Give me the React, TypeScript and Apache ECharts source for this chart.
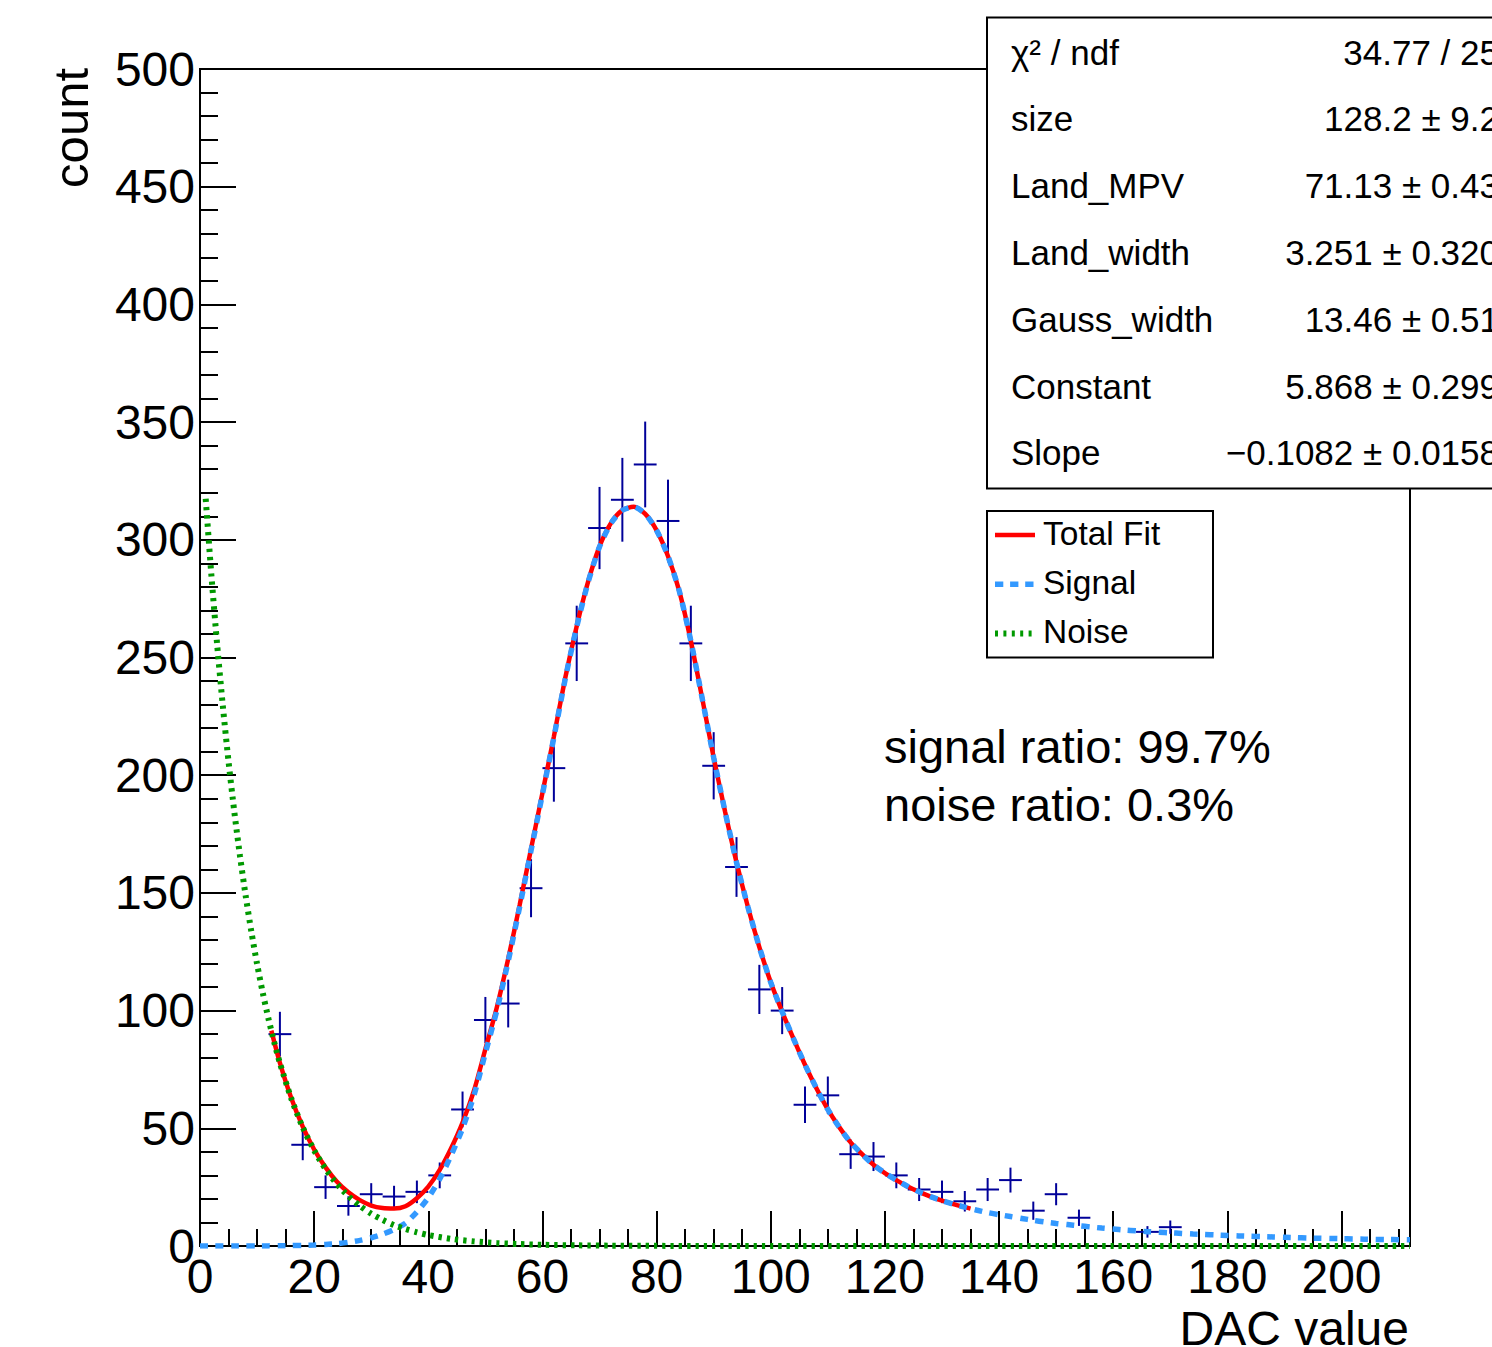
import React, { useEffect, useRef } from 'react';
import * as echarts from 'echarts';

// ---------- data ----------
const binCenters = [14, 18, 22, 26, 30, 34, 38, 42, 46, 50, 54, 58, 62, 66, 70, 74, 78, 82, 86, 90, 94, 98, 102, 106, 110, 114, 118, 122, 126, 130, 134, 138, 142, 146, 150, 154, 166, 170];
const binCounts = [90, 43, 25, 17, 22, 21, 23, 30, 58, 96, 103, 152, 203, 256, 305, 317, 332, 308, 256, 204, 161, 109, 100, 60, 64, 39, 38, 30, 24, 23, 19, 24, 28, 15, 22, 12, 6, 8];
const binErrors = [9.49, 6.56, 5.0, 4.12, 4.69, 4.58, 4.8, 5.48, 7.62, 9.8, 10.15, 12.33, 14.25, 16.0, 17.46, 17.8, 18.22, 17.55, 16.0, 14.28, 12.69, 10.44, 10.0, 7.75, 8.0, 6.24, 6.16, 5.48, 4.9, 4.8, 4.36, 4.9, 5.29, 3.87, 4.69, 3.46, 2.45, 2.83];
const binHalfWidth = 2;

const totalX = [12.5, 14, 16, 18, 20, 22, 24, 26, 28, 30, 32, 34, 36, 38, 40, 42, 44, 46, 48, 50, 52, 54, 56, 58, 60, 62, 64, 66, 68, 70, 72, 74, 76, 78, 80, 82, 84, 86, 88, 90, 92, 94, 96, 98, 100, 102, 104, 106, 108, 110, 112, 114, 116, 118, 120, 122, 124, 126, 128, 130, 132, 134, 135];
const totalY = [91.5, 77.8, 62.8, 50.7, 41.0, 33.4, 27.3, 22.8, 19.5, 17.2, 16.1, 15.9, 16.9, 20.3, 25.2, 32.3, 41.5, 52.4, 66.0, 83.6, 101.3, 122.0, 144.8, 168.7, 192.5, 216.4, 241.4, 263.3, 282.2, 297.2, 307.1, 312.6, 314.0, 311.0, 304.0, 293.0, 278.0, 257.0, 232.5, 207.5, 184.5, 163.0, 144.0, 127.0, 112.0, 99.5, 88.0, 77.0, 67.0, 58.0, 50.5, 44.0, 39.0, 34.5, 31.0, 28.0, 25.3, 23.0, 21.0, 19.3, 17.8, 16.5, 15.9];

const signalX = [0, 2, 4, 6, 8, 10, 12, 14, 16, 18, 20, 22, 24, 26, 28, 30, 32, 34, 36, 38, 40, 42, 44, 46, 48, 50, 52, 54, 56, 58, 60, 62, 64, 66, 68, 70, 72, 74, 76, 78, 80, 82, 84, 86, 88, 90, 92, 94, 96, 98, 100, 102, 104, 106, 108, 110, 112, 114, 116, 118, 120, 122, 124, 126, 128, 130, 132, 134, 136, 138, 140, 142, 144, 146, 148, 150, 152, 154, 156, 158, 160, 162, 164, 166, 168, 170, 172, 174, 176, 178, 180, 182, 184, 186, 188, 190, 192, 194, 196, 198, 200, 202, 204, 206, 208, 210, 212];
const signalY = [0, 0, 0, 0, 0.01, 0.02, 0.05, 0.1, 0.15, 0.25, 0.4, 0.65, 1.0, 1.6, 2.4, 3.5, 5.0, 7.0, 9.7, 14.5, 20.5, 28.5, 38.5, 50, 64, 82, 100, 121, 144, 168, 192, 216, 241, 263, 282, 297, 307, 312.5, 314, 311, 304, 293, 278, 257, 232.5, 207.5, 184.5, 163, 144, 127, 112, 99.5, 88, 77, 67, 58, 50.5, 44, 39, 34.5, 31, 28, 25.3, 23, 21, 19.3, 17.8, 16.5, 15.3, 14.2, 13.3, 12.5, 11.7, 10.9, 10.2, 9.6, 9.1, 8.6, 8.1, 7.6, 7.2, 6.8, 6.45, 6.1, 5.85, 5.6, 5.35, 5.1, 4.9, 4.7, 4.5, 4.3, 4.15, 4.0, 3.85, 3.7, 3.55, 3.4, 3.3, 3.2, 3.1, 3.0, 2.9, 2.8, 2.75, 2.7, 2.65];

const noiseX = [1, 2, 3, 4, 5, 6, 7, 8, 9, 10, 11, 12, 13, 14, 16, 18, 20, 22, 24, 26, 28, 30, 32, 34, 36, 38, 40, 44, 48, 52, 56, 60, 66, 72, 80, 90, 100, 120, 140, 160, 180, 200, 212];
const noiseY = [317.4, 284.8, 255.6, 229.4, 205.8, 184.7, 165.8, 148.8, 133.5, 119.8, 107.5, 96.5, 86.6, 77.7, 62.6, 50.4, 40.6, 32.7, 26.3, 21.2, 17.1, 13.7, 11.1, 8.9, 7.2, 5.8, 4.66, 3.02, 1.96, 1.27, 0.82, 0.53, 0.28, 0.15, 0.06, 0.02, 0.01, 0, 0, 0, 0, 0, 0];

const statsLabels = ['χ² / ndf', 'size', 'Land_MPV', 'Land_width', 'Gauss_width', 'Constant', 'Slope'];
const statsValues = ['34.77 / 25', '128.2 ± 9.2', '71.13 ± 0.43', '3.251 ± 0.320', '13.46 ± 0.51', '5.868 ± 0.299', '−0.1082 ± 0.0158'];
const legendLabels = ['Total Fit', 'Signal', 'Noise'];
const ratioTexts = ['signal ratio: 99.7%', 'noise ratio: 0.3%'];

const xMin = 0;
const xMax = 212;
const xMajor = 20;
const xMinor = 5;
const yMin = 0;
const yMax = 500;
const yMajor = 50;

// ---------- styles ----------
const FONT = '"Liberation Sans", Arial, Helvetica, sans-serif';
const RED = '#ff0000';
const BLUE = '#3399ff';
const GREEN = '#009900';
const NAVY = '#000099';
const SIGNAL_DASH = [8, 7.5];
const NOISE_DASH = [3.3, 5];

function txt(text: string, x: number, y: number, size: number, align: string, extra: any = {}) {
  return {
    type: 'text',
    x,
    y,
    z: 101,
    silent: true,
    ...extra,
    style: {
      text,
      font: `${size}px ${FONT}`,
      fill: '#000',
      align,
      verticalAlign: 'middle',
      textAlign: align,
      textVerticalAlign: 'middle',
    },
  };
}

export default function App() {
  const ref = useRef<HTMLDivElement>(null);

  useEffect(() => {
    if (!ref.current) return;
    const chart = echarts.init(ref.current, undefined, { renderer: 'svg' });

    const graphic: any[] = [];
    // stats box
    graphic.push({
      type: 'rect',
      z: 100,
      silent: true,
      shape: { x: 987, y: 17.5, width: 600, height: 471 },
      style: { fill: '#fff', stroke: '#000', lineWidth: 2 },
    });
    const rowTop = 52;
    const rowStep = 66.8;
    statsLabels.forEach((l, i) => {
      graphic.push(txt(l, 1011, rowTop + rowStep * i, 35, 'left'));
      graphic.push(txt(statsValues[i], 1499, rowTop + rowStep * i, 35, 'right'));
    });
    // legend box
    graphic.push({
      type: 'rect',
      z: 100,
      silent: true,
      shape: { x: 987, y: 511, width: 226, height: 146.5 },
      style: { fill: '#fff', stroke: '#000', lineWidth: 2 },
    });
    const legStyles = [
      { stroke: RED, lineWidth: 4.5 },
      { stroke: BLUE, lineWidth: 5.5, lineDash: [8.3, 6.8] },
      { stroke: GREEN, lineWidth: 6, lineDash: [3, 5.4] },
    ];
    legendLabels.forEach((l, i) => {
      const yLine = 535 + 49.2 * i;
      graphic.push({
        type: 'line',
        z: 101,
        silent: true,
        shape: { x1: 995, y1: yLine, x2: 1035, y2: yLine },
        style: legStyles[i],
      });
      graphic.push(txt(l, 1043, 533 + 49.2 * i, 33.5, 'left'));
    });
    // ratio texts
    ratioTexts.forEach((t, i) => {
      graphic.push(txt(t, 884, 746 + 58 * i, 47, 'left'));
    });
    // axis titles
    graphic.push(txt('count', 70.5, 68, 49, 'right', { rotation: Math.PI / 2 }));
    graphic.push(txt('DAC value', 1409, 1328.5, 48, 'right'));

    const lineCommon = {
      type: 'line',
      xAxisIndex: 0,
      silent: true,
      showSymbol: false,
      symbol: 'none',
      smooth: 0.25,
    };

    const option: any = {
      animation: false,
      backgroundColor: '#ffffff',
      grid: {
        left: 200,
        top: 69,
        width: 1210,
        height: 1177,
        show: true,
        borderColor: '#000',
        borderWidth: 2,
        backgroundColor: 'transparent',
        containLabel: false,
      },
      xAxis: [
        {
          type: 'value',
          min: xMin,
          max: xMax,
          interval: xMajor,
          position: 'bottom',
          axisLine: { show: true, onZero: false, lineStyle: { color: '#000', width: 2 } },
          axisTick: { show: true, inside: true, length: 35, lineStyle: { color: '#000', width: 2 } },
          minorTick: { show: false },
          splitLine: { show: false },
          axisLabel: {
            show: true,
            margin: 6,
            fontSize: 48,
            fontFamily: FONT,
            color: '#000',
            showMaxLabel: false,
            showMinLabel: true,
          },
        },
        {
          type: 'value',
          min: xMin,
          max: xMax,
          interval: xMinor,
          position: 'bottom',
          gridIndex: 0,
          axisLine: { show: false, onZero: false },
          axisTick: { show: true, inside: true, length: 17, lineStyle: { color: '#000', width: 2 } },
          axisLabel: { show: false },
          splitLine: { show: false },
        },
      ],
      yAxis: {
        type: 'value',
        min: yMin,
        max: yMax,
        interval: yMajor,
        axisLine: { show: true, onZero: false, lineStyle: { color: '#000', width: 2 } },
        axisTick: { show: true, inside: true, length: 36, lineStyle: { color: '#000', width: 2 } },
        minorTick: { show: true, splitNumber: 5, length: 18, lineStyle: { color: '#000', width: 2 } },
        splitLine: { show: false },
        minorSplitLine: { show: false },
        axisLabel: { margin: 5, fontSize: 48, fontFamily: FONT, color: '#000' },
      },
      series: [
        {
          type: 'custom',
          name: 'data',
          xAxisIndex: 0,
          z: 2,
          silent: true,
          data: binCenters.map((c, i) => [c, binCounts[i], binErrors[i]]),
          encode: { x: 0, y: 1 },
          renderItem: (params: any, api: any) => {
            const x = api.value(0);
            const y = api.value(1);
            const e = api.value(2);
            const pL = api.coord([x - binHalfWidth, y]);
            const pR = api.coord([x + binHalfWidth, y]);
            const pT = api.coord([x, y + e]);
            const pB = api.coord([x, y - e]);
            const st = { stroke: NAVY, lineWidth: 2 };
            return {
              type: 'group',
              children: [
                { type: 'line', shape: { x1: pL[0], y1: pL[1], x2: pR[0], y2: pR[1] }, style: st },
                { type: 'line', shape: { x1: pT[0], y1: pT[1], x2: pB[0], y2: pB[1] }, style: st },
              ],
            };
          },
        },
        {
          ...lineCommon,
          name: 'Total Fit',
          z: 3,
          data: totalX.map((x, i) => [x, totalY[i]]),
          lineStyle: { color: RED, width: 4.5, type: 'solid' },
        },
        {
          ...lineCommon,
          name: 'Signal',
          z: 4,
          data: signalX.map((x, i) => [x, signalY[i]]),
          lineStyle: { color: BLUE, width: 5.5, type: SIGNAL_DASH },
        },
        {
          ...lineCommon,
          name: 'Noise',
          z: 5,
          data: noiseX.map((x, i) => [x, noiseY[i]]),
          lineStyle: { color: GREEN, width: 6, type: NOISE_DASH },
        },
      ],
      graphic,
    };

    chart.setOption(option);
    return () => {
      chart.dispose();
    };
  }, []);

  return (
    <div
      ref={ref}
      style={{ position: 'absolute', left: 0, top: 0, width: 1492, height: 1347, background: '#fff' }}
    />
  );
}
